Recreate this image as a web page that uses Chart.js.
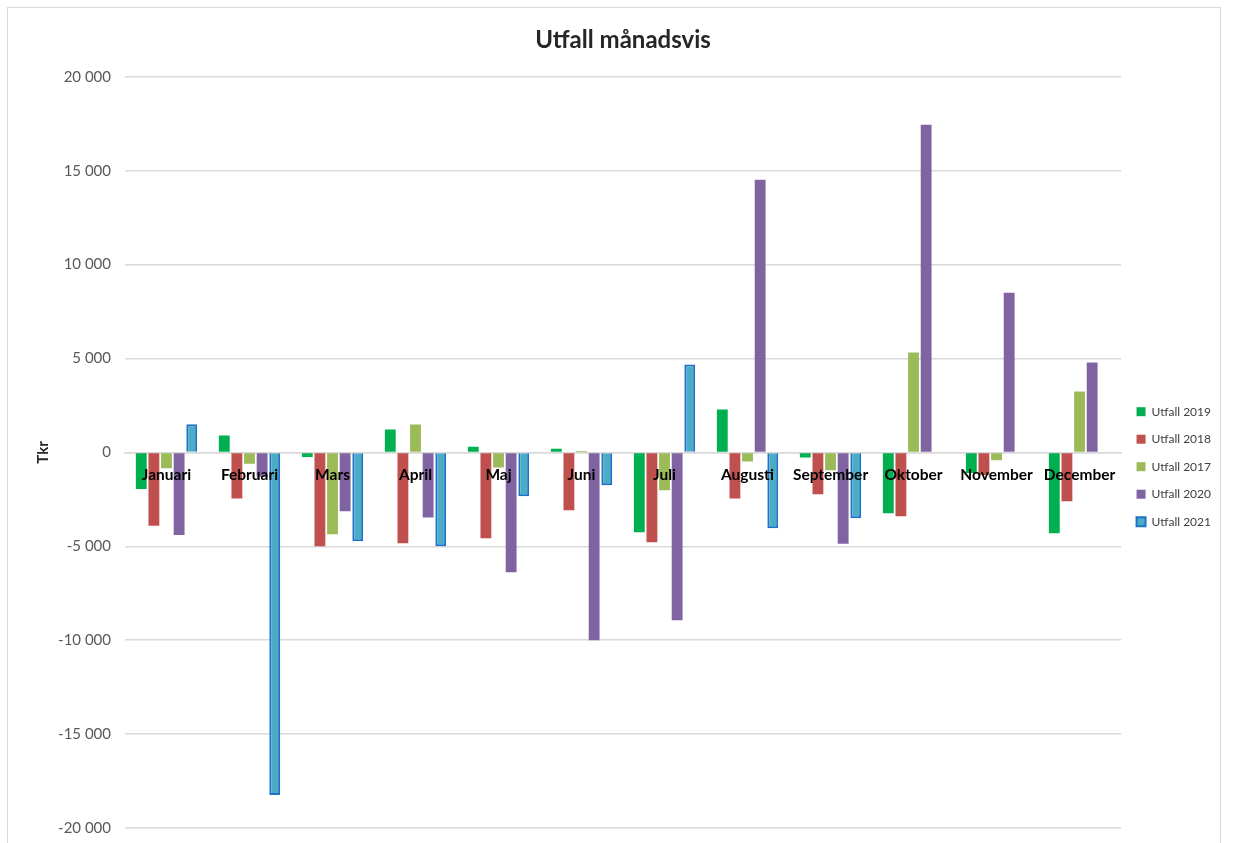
<!DOCTYPE html>
<html>
<head>
<meta charset="utf-8">
<script src="https://cdn.jsdelivr.net/npm/chart.js@4"></script>
<style>
  html, body { margin: 0; padding: 0; background: #fff; overflow: hidden; }
  #frame { position: absolute; left: 7px; top: 7px; width: 1214px; height: 860px; border: 1px solid #D9D9D9; box-sizing: border-box; }
  #wrap { position: absolute; left: 0; top: 0; width: 1233px; height: 851px; }
</style>
</head>
<body>
<div id="frame"></div>
<div id="wrap"><canvas id="c"></canvas></div>
<script>
const months = ["Januari","Februari","Mars","April","Maj","Juni","Juli","Augusti","September","Oktober","November","December"];
const utfall2019 = [-1950, 900, -250, 1220, 300, 200, -4250, 2290, -270, -3240, -1100, -4300];
const utfall2018 = [-3900, -2450, -5000, -4840, -4570, -3080, -4790, -2450, -2230, -3400, -1200, -2600];
const utfall2017 = [-850, -600, -4360, 1490, -800, 70, -2020, -480, -950, 5320, -420, 3240];
const utfall2020 = [-4400, -1300, -3140, -3460, -6380, -10000, -8940, 14520, -4870, 17450, 8500, 4790];
const utfall2021 = [1500, -18240, -4730, -5000, -2340, -1750, 4680, -4040, -3500, null, null, null];
const yTicks = [-20000, -15000, -10000, -5000, 0, 5000, 10000, 15000, 20000];

const fontFam = "Lato, 'Liberation Sans', sans-serif";

function fmt(v) {
  const s = Math.abs(v).toString().replace(/\B(?=(\d{3})+(?!\d))/g, " ");
  return (v < 0 ? "-" : "") + s;
}

new Chart(document.getElementById("c"), {
  type: "bar",
  data: {
    labels: months,
    datasets: [
      { label: "Utfall 2019", data: utfall2019, backgroundColor: "#00B050" },
      { label: "Utfall 2018", data: utfall2018, backgroundColor: "#C0504D" },
      { label: "Utfall 2017", data: utfall2017, backgroundColor: "#9BBB59" },
      { label: "Utfall 2020", data: utfall2020, backgroundColor: "#8064A2" },
      { label: "Utfall 2021", data: utfall2021, backgroundColor: "#4BACC6", borderColor: "#1F70C8", borderWidth: 2 }
    ]
  },
  options: {
    responsive: true,
    maintainAspectRatio: false,
    animation: false,
    devicePixelRatio: 1,
    datasets: { bar: { categoryPercentage: 0.76, barPercentage: 0.86 } },
    layout: { padding: { left: 30, right: 12, top: 13, bottom: 0 } },
    plugins: {
      title: {
        display: true,
        text: "Utfall månadsvis",
        fullSize: false,
        color: "#262626",
        font: { family: fontFam, size: 24, weight: "bold" },
        padding: { top: 13, bottom: 22 }
      },
      legend: {
        position: "right",
        title: { display: true, text: " ", font: { family: fontFam, size: 12 }, padding: { top: 0, bottom: 55 } },
        labels: {
          boxWidth: 9, boxHeight: 9, padding: 15.5,
          color: "#404040",
          font: { family: fontFam, size: 12 }
        }
      },
      tooltip: { enabled: false }
    },
    scales: {
      x: {
        position: { y: 0 },
        afterFit: s => { s.height = 0; },
        grid: { display: false, drawTicks: false },
        border: { display: true, color: "#D9D9D9", width: 1.5 },
        ticks: { z: 1, color: "#000", padding: 13, maxRotation: 0, autoSkip: false, font: { family: fontFam, size: 15.5, weight: "bold" } }
      },
      y: {
        min: -20000, max: 20000,
        afterBuildTicks: s => { s.ticks = yTicks.map(v => ({ value: v })); },
        afterFit: s => { s.width = 95; },
        grid: { color: "#D9D9D9", lineWidth: 1.5, drawTicks: false },
        border: { display: false },
        title: { display: true, text: "Tkr", color: "#262626", font: { family: fontFam, size: 15, weight: "bold" } },
        ticks: { color: "#595959", padding: 14, font: { family: fontFam, size: 15 }, callback: v => fmt(v) }
      }
    }
  }
});
</script>
</body>
</html>
